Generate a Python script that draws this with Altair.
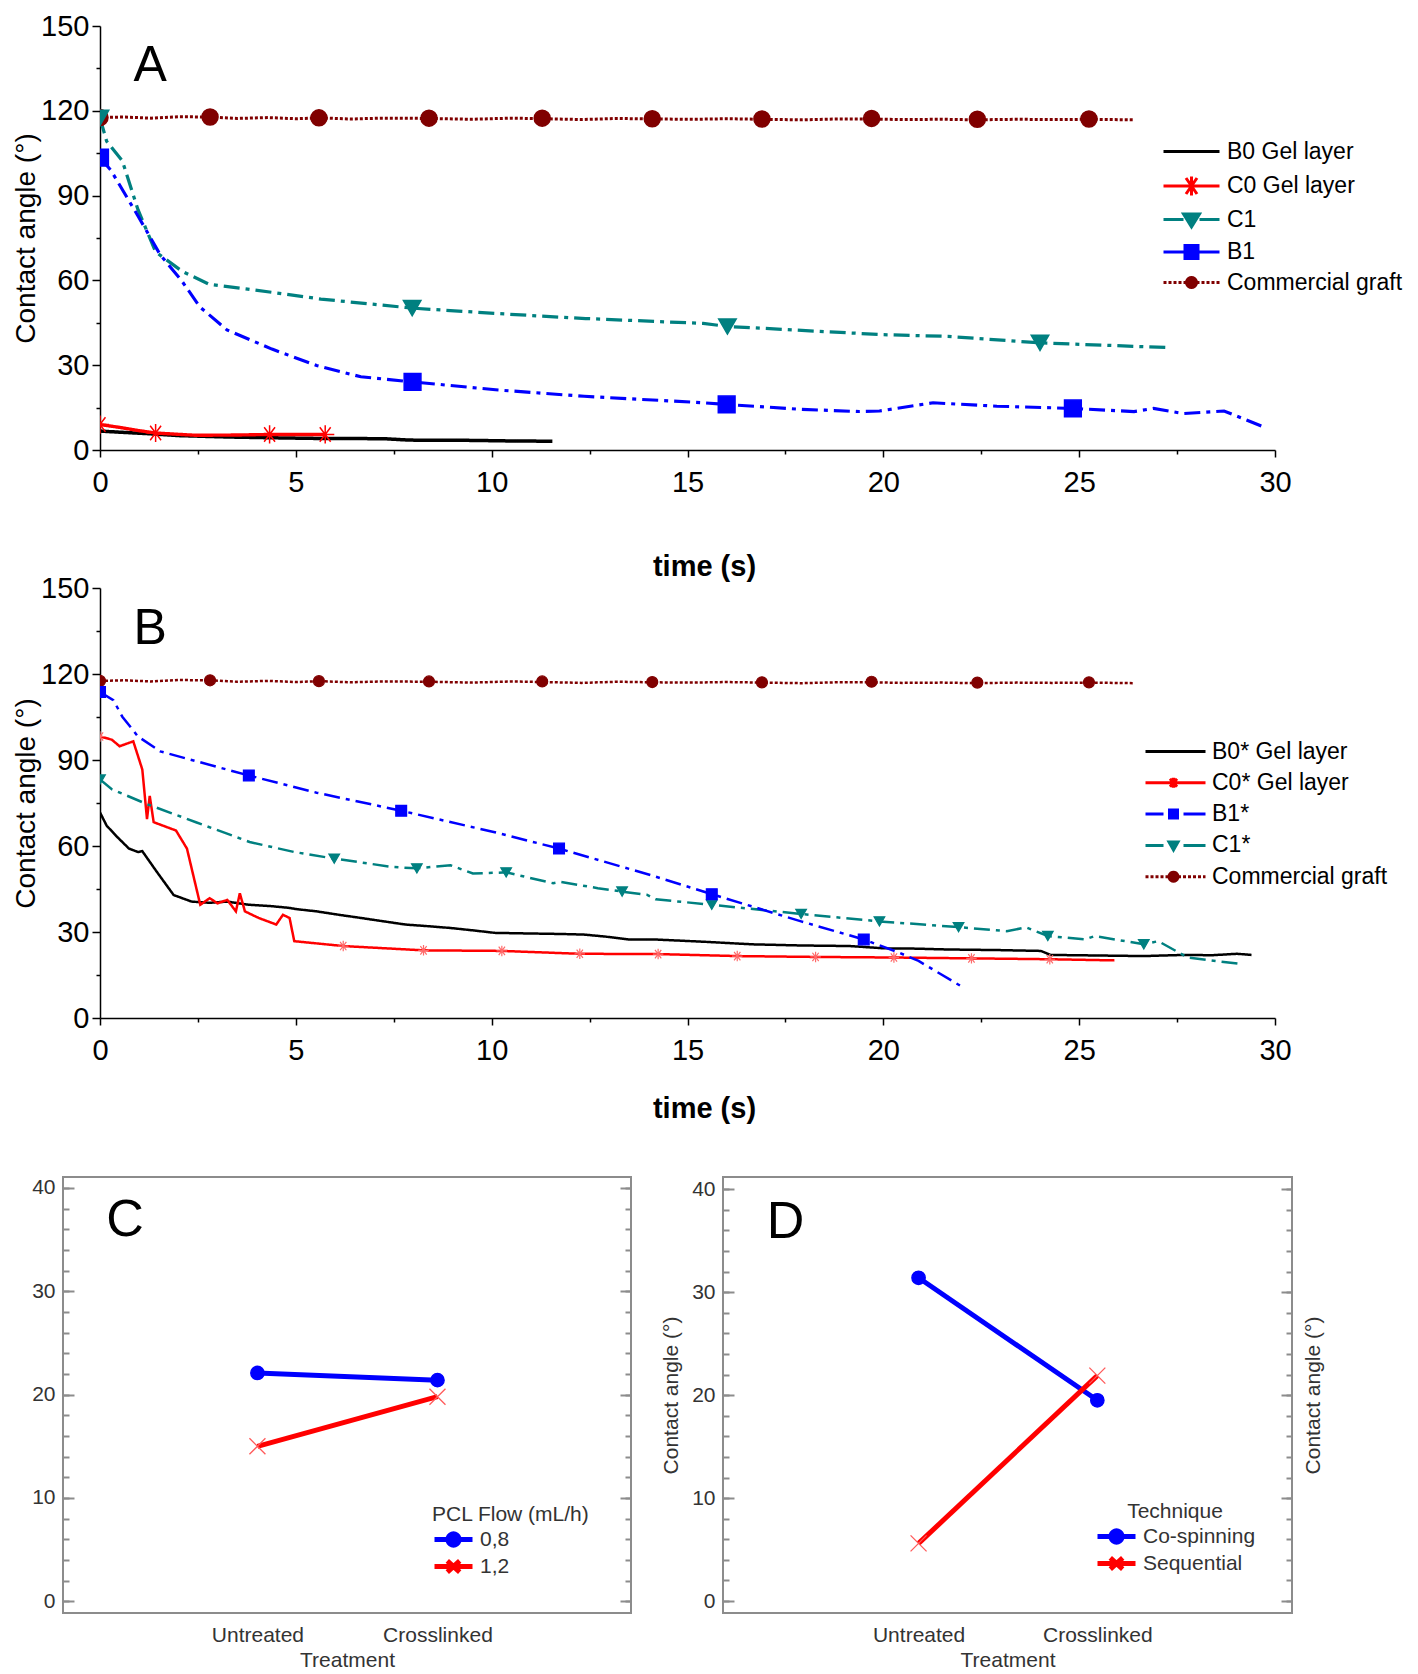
import altair as alt
import pandas as pd
import math

FONT = "Liberation Sans, Arial, Helvetica, sans-serif"
GRAY = "#8c8c8c"
TXT = "#333333"

# ---------------- series names ----------------
A_SERIES = ["B0 Gel layer", "C0 Gel layer", "C1", "B1", "Commercial graft"]
B_SERIES = ["B0* Gel layer", "C0* Gel layer", "B1*", "C1*", "Commercial graft"]

# ---------------- Commercial graft (same in A and B) ----------------
CG_t = [0.0, 0.6, 1.3, 2.0, 2.8, 3.5, 4.3, 5.0, 5.6, 6.4, 7.2, 8.4, 9.5, 10.5, 11.3, 12.3,
        13.2, 14.1, 15.2, 16.0, 16.9, 17.9, 18.8, 19.7, 20.5, 21.5, 22.4, 23.4, 24.3, 25.3, 26.4]
CG_y = [117.6, 117.8, 117.4, 117.9, 117.8, 117.3, 117.6, 117.2, 117.5, 117.1, 117.4, 117.3,
        117.0, 117.4, 117.2, 116.9, 117.3, 117.1, 117.0, 117.2, 117.0, 116.8, 117.1, 117.1,
        116.9, 117.0, 116.8, 117.0, 116.9, 117.0, 116.8]
CG_mt = [0.0, 2.81, 5.59, 8.4, 11.29, 14.1, 16.9, 19.7, 22.4, 25.25]
CG_my = [117.6, 117.8, 117.5, 117.4, 117.4, 117.2, 117.1, 117.3, 117.0, 117.1]

# ---------------- Panel A ----------------
A_B0_t = [0, 0.5, 1.2, 2.0, 3.25, 4.5, 5.5, 7.24, 7.9, 9.5, 10.5, 11.55]
A_B0_y = [6.7, 6.3, 5.8, 5.1, 4.6, 4.3, 4.1, 4.0, 3.5, 3.4, 3.2, 3.1]

A_C0_t = [0, 0.5, 0.97, 1.42, 2.45, 3.5, 4.33, 5.75]
A_C0_y = [9.0, 8.0, 6.9, 6.0, 5.2, 5.3, 5.5, 5.5]
A_C0_mt = [0, 1.42, 4.33, 5.75]
A_C0_my = [9.0, 6.0, 5.5, 5.5]

A_C1_t = [0, 0.17, 0.57, 0.97, 1.42, 2.1, 2.79, 4.38, 5.64, 7.97, 10.1, 12.4, 15.4, 16.02,
          20.0, 21.65, 24.0, 27.33]
A_C1_y = [117.5, 109.2, 102.3, 85.0, 70.1, 63.2, 58.6, 55.8, 53.4, 50.2, 48.3, 46.5, 44.8,
          43.7, 40.8, 40.2, 37.9, 36.2]
A_C1_mt = [0, 7.97, 16.02, 24.0]
A_C1_my = [117.5, 50.2, 43.7, 37.9]

A_B1_t = [0, 0.28, 0.97, 1.54, 2.09, 2.55, 3.24, 4.39, 5.53, 6.66, 7.98, 10.1, 12.36, 15.42,
          16.0, 17.9, 19.38, 19.9, 21.27, 22.9, 24.84, 26.4, 26.9, 27.65, 28.7, 29.77]
A_B1_y = [103.4, 98.9, 82.8, 69.0, 59.8, 50.6, 42.5, 35.7, 29.9, 25.9, 24.1, 21.3, 19.0, 16.7,
          16.1, 14.4, 13.6, 13.8, 16.7, 15.5, 14.7, 13.6, 14.7, 12.9, 13.8, 7.8]
A_B1_mt = [0, 7.98, 16.0, 24.84]
A_B1_my = [103.4, 24.1, 16.1, 14.7]

# ---------------- Panel B ----------------
B_B0_t = [0, 0.17, 0.45, 0.74, 0.97, 1.08, 1.45, 1.88, 2.34, 2.8, 3.25, 3.8, 4.39, 4.84, 5.0,
          5.53, 6.1, 6.66, 7.2, 7.8, 8.4, 8.95, 9.5, 10.08, 10.9, 11.8, 12.36, 12.9, 13.5,
          14.14, 15.42, 16.65, 17.9, 19.15, 20.02, 20.8, 21.65, 22.9, 24.02, 24.27, 25.5,
          26.65, 27.65, 28.4, 29.03, 29.4]
B_B0_y = [71.7, 67.1, 63.0, 59.1, 57.9, 58.2, 51.0, 42.9, 40.6, 40.2, 40.6, 39.5, 39.0, 38.4,
          38.0, 37.2, 36.0, 34.9, 33.8, 32.6, 32.0, 31.4, 30.6, 29.7, 29.5, 29.3, 29.1, 28.4,
          27.4, 27.4, 26.6, 25.7, 25.3, 25.1, 24.3, 24.2, 23.9, 23.7, 23.4, 22.0, 21.8, 21.6,
          22.0, 21.9, 22.4, 22.0]

B_C0_t = [0, 0.3, 0.5, 0.85, 1.08, 1.2, 1.27, 1.37, 1.94, 2.22, 2.56, 2.8, 3.0, 3.25, 3.47,
          3.57, 3.7, 4.05, 4.5, 4.67, 4.84, 4.96, 6.21, 8.26, 10.26, 12.25, 14.25, 16.27,
          18.27, 20.27, 22.25, 24.25, 25.9]
B_C0_y = [98.2, 97.1, 94.8, 96.5, 86.7, 69.4, 77.5, 68.3, 65.4, 59.1, 39.5, 41.8, 40.0, 41.2,
          37.2, 43.5, 37.2, 34.9, 32.6, 36.0, 34.9, 26.8, 25.1, 23.6, 23.4, 22.4, 22.3, 21.6,
          21.3, 21.1, 20.8, 20.5, 20.1]
B_C0_mt = [0, 6.21, 8.26, 10.26, 12.25, 14.25, 16.27, 18.27, 20.27, 22.25, 24.25]
B_C0_my = [98.2, 25.1, 23.6, 23.4, 22.4, 22.3, 21.6, 21.3, 21.1, 20.8, 20.5]

B_B1_t = [0, 0.34, 0.57, 0.97, 1.54, 2.45, 3.8, 5.53, 7.69, 10.08, 11.72, 14.07, 15.62, 17.9,
          19.5, 20.4, 20.9, 21.96]
B_B1_y = [113.7, 110.9, 105.1, 98.2, 93.0, 89.6, 84.6, 78.6, 72.3, 64.8, 59.1, 49.8, 43.2,
          33.7, 27.4, 22.8, 19.9, 11.3]
B_B1_mt = [0, 3.8, 7.69, 11.72, 15.62, 19.5]
B_B1_my = [113.7, 84.6, 72.3, 59.1, 43.2, 27.4]

B_C1_t = [0, 0.3, 1.2, 2.45, 3.82, 4.96, 5.98, 7.46, 8.09, 8.95, 9.52, 10.37, 11.57, 11.75,
          12.71, 13.33, 13.96, 14.19, 15.62, 17.9, 19.9, 21.92, 23.15, 23.65, 24.2, 25.15,
          25.4, 26.65, 27.02, 27.77, 29.15]
B_C1_y = [83.2, 79.8, 74.6, 68.3, 61.4, 57.9, 55.6, 52.7, 52.2, 53.3, 50.4, 50.8, 47.0, 47.5,
          45.3, 44.1, 43.0, 41.4, 39.5, 36.3, 33.7, 31.7, 30.3, 31.6, 28.6, 27.4, 28.6, 25.7,
          26.8, 21.1, 18.8]
B_C1_mt = [0, 5.98, 8.09, 10.37, 13.33, 15.62, 17.9, 19.9, 21.92, 24.2, 26.65]
B_C1_my = [83.2, 55.6, 52.2, 50.8, 44.1, 39.5, 36.3, 33.7, 31.7, 28.6, 25.7]

# ---------------- Panels C and D ----------------
CATS = ["Untreated", "Crosslinked"]
C_GROUPS = ["0,8", "1,2"]
C_08 = [22.1, 21.4]
C_12 = [15.0, 19.8]
D_GROUPS = ["Co-spinning", "Sequential"]
D_CO = [31.4, 19.5]
D_SEQ = [5.6, 21.9]

# ---------------- colours / styles ----------------
BLACK, RED, TEAL, BLUE, MAROON = "#000000", "#ff0000", "#008080", "#0000ff", "#800000"


def long_df(items):
    rows = []
    for name, ts, ys in items:
        assert len(ts) == len(ys), name
        for i, (t, y) in enumerate(zip(ts, ys)):
            rows.append({"series": name, "t": t, "y": y, "idx": i})
    return pd.DataFrame(rows)


def dotted(x0, x1, seg=0.3, gap=0.2):
    s, x = "", x0
    while x < x1 - 1e-9:
        e = min(x + seg, x1)
        s += f"M{x:.2f},0H{e:.2f}"
        x = e + gap
    return s


def circ(cx, r, n=20):
    pts = [(cx + r * math.cos(2 * math.pi * k / n), r * math.sin(2 * math.pi * k / n))
           for k in range(n)]
    return "M" + "L".join(f"{px:.3f},{py:.3f}" for px, py in pts) + "Z"


ASTER = "M0,-1V1M-0.6,-0.8L0.6,0.8M-0.6,0.8L0.6,-0.8M-1,0H1"
XMARK = "M-1,-1L1,1M-1,1L1,-1"

# legend symbols (line + marker), panel A
LA = [
    "M-1,0H4.6",
    "M-1,0H4.6M1.8,-0.95V0.95M1.25,-0.8L2.35,0.8M1.25,0.8L2.35,-0.8",
    "M-1,0H1.0M2.6,0H4.6M1.0,-0.55H2.6L1.8,0.75Z",
    "M-1,0H1.15M2.45,0H4.6M1.15,-0.65H2.45V0.65H1.15Z",
    dotted(-1, 1.3) + dotted(2.3, 4.6) + circ(1.8, 0.5),
]
# panel B
LB = [
    "M-1,0H5",
    "M-1,0H5M1.8,-0.5V0.5M1.45,-0.4L2.15,0.4M1.45,0.4L2.15,-0.4",
    "M-1,0H0.8M2.8,0H5M1.4,-0.4H2.2V0.4H1.4Z",
    "M-1,0H0.8M2.8,0H5M1.35,-0.35H2.25L1.8,0.45Z",
    dotted(-1, 1.35) + dotted(2.25, 5) + circ(1.8, 0.45),
]
# panels C / D
LCD = [
    "M-1,0H3.75" + circ(1.375, 0.7),
    "M-1,0H3.75M0.6,-0.7L2.15,0.7M0.6,0.7L2.15,-0.7",
]


def time_panel(series, colors, dashes, widths, lines, marks, mk_dom, mk_shapes, mk_sizes,
               mk_fill, mk_stroke, mk_sw, leg_paths, leg_x, leg_y, leg_off, leg_rowpad,
               letter, letter_t, letter_y, height, title_pad):
    xs = alt.Scale(domain=[0, 30], nice=False, zero=False)
    ys = alt.Scale(domain=[0, 150], nice=False, zero=False)
    x_main = alt.Axis(orient="bottom", values=[0, 5, 10, 15, 20, 25, 30], tickSize=7,
                      tickWidth=1.5, tickColor="black", domainColor="black", domainWidth=1.5,
                      labelFontSize=29, labelColor="black", labelFont=FONT, labelPadding=11,
                      labelFlush=False, title="time (s)", titleFontSize=29,
                      titleFontWeight="bold", titleColor="black", titleFont=FONT,
                      titlePadding=title_pad, titleX=604, grid=False)
    x_minor = alt.Axis(orient="bottom", values=[2.5, 7.5, 12.5, 17.5, 22.5, 27.5], tickSize=4,
                       tickWidth=1.5, tickColor="black", labels=False, domain=False, title="",
                       grid=False)
    y_main = alt.Axis(orient="left", values=[0, 30, 60, 90, 120, 150], tickSize=8,
                      tickWidth=1.5, tickColor="black", domainColor="black", domainWidth=1.5,
                      labelFontSize=29, labelColor="black", labelFont=FONT, labelPadding=3,
                      title="Contact angle (°)", titleFontSize=28, titleFontWeight="normal",
                      titleColor="black", titleFont=FONT, titlePadding=0, grid=False)
    y_minor = alt.Axis(orient="left", values=[15, 45, 75, 105, 135], tickSize=4, tickWidth=1.5,
                       tickColor="black", labels=False, domain=False, title="", grid=False)

    line = alt.Chart(lines).mark_line(clip=True).encode(
        x=alt.X("t:Q", scale=xs, axis=x_main),
        y=alt.Y("y:Q", scale=ys, axis=y_main),
        color=alt.Color("series:N", scale=alt.Scale(domain=series, range=colors), legend=None),
        strokeDash=alt.StrokeDash("series:N", scale=alt.Scale(domain=series, range=dashes),
                                  legend=None),
        strokeWidth=alt.StrokeWidth("series:N", scale=alt.Scale(domain=series, range=widths),
                                    legend=None),
        order="idx:Q",
    )
    mk = alt.Chart(marks).mark_point(filled=True, clip=True, opacity=1, strokeWidth=mk_sw).encode(
        x=alt.X("t:Q", scale=xs, axis=x_minor),
        y=alt.Y("y:Q", scale=ys, axis=y_minor),
        fill=alt.Fill("series:N", scale=alt.Scale(domain=mk_dom, range=mk_fill), legend=None),
        stroke=alt.Stroke("series:N", scale=alt.Scale(domain=mk_dom, range=mk_stroke),
                          legend=None),
        shape=alt.Shape("series:N", scale=alt.Scale(domain=mk_dom, range=mk_shapes),
                        legend=None),
        size=alt.Size("series:N", scale=alt.Scale(domain=mk_dom, range=mk_sizes), legend=None),
    )
    legdf = pd.DataFrame({"series": series, "t": [0] * len(series), "y": [0] * len(series)})
    L = alt.Legend(orient="none", legendX=leg_x, legendY=leg_y, title=None, symbolSize=400,
                   symbolStrokeWidth=3, labelFontSize=23, labelFont=FONT, labelColor="black",
                   labelOffset=leg_off, rowPadding=leg_rowpad, padding=0, symbolOpacity=1,
                   labelLimit=400)
    leg = alt.Chart(legdf).mark_point(filled=True, opacity=0).encode(
        x=alt.X("t:Q", scale=xs, axis=None),
        y=alt.Y("y:Q", scale=ys, axis=None),
        fill=alt.Fill("series:N", scale=alt.Scale(domain=series, range=colors), legend=L),
        stroke=alt.Stroke("series:N", scale=alt.Scale(domain=series, range=colors), legend=L),
        shape=alt.Shape("series:N", scale=alt.Scale(domain=series, range=leg_paths), legend=L),
    )
    txt = alt.Chart(pd.DataFrame({"t": [letter_t], "y": [letter_y], "s": [letter]})).mark_text(
        fontSize=50, font=FONT, color="black").encode(
        x=alt.X("t:Q", scale=xs, axis=None),
        y=alt.Y("y:Q", scale=ys, axis=None),
        text="s:N",
    )
    return alt.layer(line, mk, leg, txt).resolve_axis(
        x="independent", y="independent").resolve_scale(
        color="independent", fill="independent", stroke="independent", shape="independent",
        size="independent", strokeDash="independent", strokeWidth="independent").properties(
        width=1175, height=height)


# ---------------- build A ----------------
linesA = long_df([("Commercial graft", CG_t, CG_y), ("C1", A_C1_t, A_C1_y),
                  ("B1", A_B1_t, A_B1_y), ("B0 Gel layer", A_B0_t, A_B0_y),
                  ("C0 Gel layer", A_C0_t, A_C0_y)])
marksA = long_df([("Commercial graft", CG_mt, CG_my), ("C1", A_C1_mt, A_C1_my),
                  ("B1", A_B1_mt, A_B1_my), ("C0 Gel layer", A_C0_mt, A_C0_my)])
panelA = time_panel(
    A_SERIES, [BLACK, RED, TEAL, BLUE, MAROON],
    [[1, 0], [1, 0], [16, 6, 4, 6], [16, 6, 4, 6], [3, 2]], [3.5, 3, 3, 3, 3],
    linesA, marksA,
    ["C0 Gel layer", "C1", "B1", "Commercial graft"],
    [ASTER, "triangle-down", "square", "circle"], [330, 256, 196, 121],
    [RED, TEAL, BLUE, MAROON], [RED, TEAL, BLUE, MAROON], 1.5,
    LA, 1062, 114, 42, 6.5, "A", 1.28, 136, 424, 55)

# ---------------- build B ----------------
linesB = long_df([("Commercial graft", CG_t, CG_y), ("B0* Gel layer", B_B0_t, B_B0_y),
                  ("C0* Gel layer", B_C0_t, B_C0_y), ("C1*", B_C1_t, B_C1_y),
                  ("B1*", B_B1_t, B_B1_y)])
marksB = long_df([("Commercial graft", CG_mt, CG_my), ("C0* Gel layer", B_C0_mt, B_C0_my),
                  ("C1*", B_C1_mt, B_C1_my), ("B1*", B_B1_mt, B_B1_my)])
panelB = time_panel(
    B_SERIES, [BLACK, RED, BLUE, TEAL, MAROON],
    [[1, 0], [1, 0], [16, 6, 4, 6], [16, 6, 4, 6], [3, 2]], [2.5, 2.5, 3, 3, 3],
    linesB, marksB,
    ["C0* Gel layer", "C1*", "B1*", "Commercial graft"],
    [ASTER, "triangle-down", "square", "circle"], [110, 121, 81, 121],
    ["#ff6a6a", TEAL, BLUE, MAROON], ["#ff6a6a", TEAL, BLUE, MAROON], 1.2,
    LB, 1044, 152, 45, 7.3, "B", 1.28, 135.6, 430, 29)


# ---------------- C / D ----------------
def cd_panel(groups, vals, xdom, ydom, leg_title, leg_x, leg_y, title_anchor, letter,
             letter_x, letter_y, width, height, left_title):
    rows = []
    for g, vs in zip(groups, vals):
        for i, (c, v) in enumerate(zip(CATS, vs)):
            rows.append({"g": g, "x": i + 1, "y": v})
    df = pd.DataFrame(rows)
    xs = alt.Scale(domain=xdom, nice=False, zero=False)
    ys = alt.Scale(domain=ydom, nice=False, zero=False)
    label_expr = f"datum.value == 1 ? '{CATS[0]}' : '{CATS[1]}'"
    x_ax = alt.Axis(orient="bottom", values=[1, 2], labelExpr=label_expr, ticks=False,
                    tickSize=0, domain=False, labelFontSize=21, labelColor=TXT, labelFont=FONT,
                    labelPadding=11, labelFlush=False, title="Treatment", titleFontSize=21,
                    titleFontWeight="normal", titleColor=TXT, titleFont=FONT, titlePadding=4,
                    grid=False)
    y_lab = alt.Axis(orient="left", values=[0, 10, 20, 30, 40], ticks=False, tickSize=0,
                     domain=False, labelFontSize=21, labelColor=TXT, labelFont=FONT,
                     labelPadding=8, title=left_title, titleFontSize=21,
                     titleFontWeight="normal", titleColor=TXT, titleFont=FONT,
                     titlePadding=10, grid=False)
    minor_vals = list(range(0, 41, 2))

    def tick_axis(orient, size, values):
        return alt.Axis(orient=orient, offset=-size, tickSize=size, tickWidth=2,
                        tickColor=GRAY, labels=False, domain=False, values=values, title="",
                        grid=False)

    colors = [BLUE, RED]
    line = alt.Chart(df).mark_line(strokeWidth=5).encode(
        x=alt.X("x:Q", scale=xs, axis=x_ax),
        y=alt.Y("y:Q", scale=ys, axis=y_lab),
        color=alt.Color("g:N", scale=alt.Scale(domain=groups, range=colors), legend=None),
    )
    mk = alt.Chart(df).mark_point(filled=True, opacity=1, strokeWidth=1.3).encode(
        x=alt.X("x:Q", scale=xs, axis=None),
        y=alt.Y("y:Q", scale=ys, axis=tick_axis("left", 11, [0, 10, 20, 30, 40])),
        fill=alt.Fill("g:N", scale=alt.Scale(domain=groups, range=colors), legend=None),
        stroke=alt.Stroke("g:N", scale=alt.Scale(domain=groups, range=[BLUE, "#ff5a5a"]),
                          legend=None),
        shape=alt.Shape("g:N", scale=alt.Scale(domain=groups, range=["circle", XMARK]),
                        legend=None),
        size=alt.Size("g:N", scale=alt.Scale(domain=groups, range=[180, 256]), legend=None),
    )
    L = alt.Legend(orient="none", legendX=leg_x, legendY=leg_y, title=leg_title,
                   titleFontSize=21, titleFontWeight="normal", titleColor=TXT, titleFont=FONT,
                   titlePadding=4, titleAnchor=title_anchor, symbolSize=256,
                   symbolStrokeWidth=5, labelFontSize=21, labelFont=FONT, labelColor=TXT,
                   labelOffset=27, rowPadding=-7, padding=0, symbolOpacity=1, labelLimit=400)
    legdf = pd.DataFrame({"g": groups, "x": [1, 1], "y": [0, 0]})
    leg = alt.Chart(legdf).mark_point(filled=True, opacity=0).encode(
        x=alt.X("x:Q", scale=xs, axis=None),
        y=alt.Y("y:Q", scale=ys, axis=tick_axis("left", 6, minor_vals)),
        fill=alt.Fill("g:N", scale=alt.Scale(domain=groups, range=colors), legend=L),
        stroke=alt.Stroke("g:N", scale=alt.Scale(domain=groups, range=colors), legend=L),
        shape=alt.Shape("g:N", scale=alt.Scale(domain=groups, range=LCD), legend=L),
    )
    d1 = alt.Chart(df).mark_point(opacity=0).encode(
        x=alt.X("x:Q", scale=xs, axis=None),
        y=alt.Y("y:Q", scale=ys, axis=tick_axis("right", 11, [0, 10, 20, 30, 40])),
    )
    txt = alt.Chart(pd.DataFrame({"x": [letter_x], "y": [letter_y], "s": [letter]})).mark_text(
        fontSize=52, font=FONT, color="black").encode(
        x=alt.X("x:Q", scale=xs, axis=None),
        y=alt.Y("y:Q", scale=ys, axis=tick_axis("right", 6, minor_vals)),
        text="s:N",
    )
    layers = [line, mk, leg, d1, txt]
    if left_title:
        d2 = alt.Chart(df).mark_point(opacity=0).encode(
            x=alt.X("x:Q", scale=xs, axis=None),
            y=alt.Y("y:Q", scale=ys, axis=alt.Axis(
                orient="right", labels=False, ticks=False, domain=False, grid=False,
                title=left_title, titleFontSize=21, titleFontWeight="normal", titleColor=TXT,
                titleFont=FONT, titlePadding=10, titleAngle=270, titleBaseline="top")),
        )
        layers.append(d2)
    return alt.layer(*layers).resolve_axis(x="independent", y="independent").resolve_scale(
        color="independent", fill="independent", stroke="independent", shape="independent",
        size="independent").properties(
        width=width, height=height,
        view=alt.ViewBackground(stroke=GRAY, strokeWidth=2))


panelC = cd_panel(C_GROUPS, [C_08, C_12], [-0.080, 3.075], [-1.13, 41.06], "PCL Flow (mL/h)",
                  369, 327, "start", "C", 0.264, 36.9, 568, 436, "")
panelD = cd_panel(D_GROUPS, [D_CO, D_SEQ], [-0.094, 3.089], [-1.16, 41.19], "Technique",
                  372, 324, "middle", "D", 0.256, 36.8, 569, 436, "Contact angle (°)")


def spacer(w, h):
    return alt.Chart(pd.DataFrame({"v": [0]})).mark_point(opacity=0).encode(
        x=alt.X("v:Q", axis=None), y=alt.Y("v:Q", axis=None)).properties(width=w, height=h)


rowA = alt.hconcat(spacer(37, 10), panelA, spacing=0, bounds="flush")
rowB = alt.hconcat(spacer(37, 589), panelB, spacing=0, bounds="flush")
rowCD = alt.hconcat(panelC, panelD, spacing=92, bounds="flush")

chart = alt.vconcat(rowA, rowB, rowCD, spacing=-7).properties(
    padding={"left": 4, "top": 4, "right": 0, "bottom": 0}).configure(
    font=FONT).configure_view(strokeWidth=0).configure_axis(grid=False)

chart.save("out.html", embed_options={"renderer": "svg", "actions": False})
